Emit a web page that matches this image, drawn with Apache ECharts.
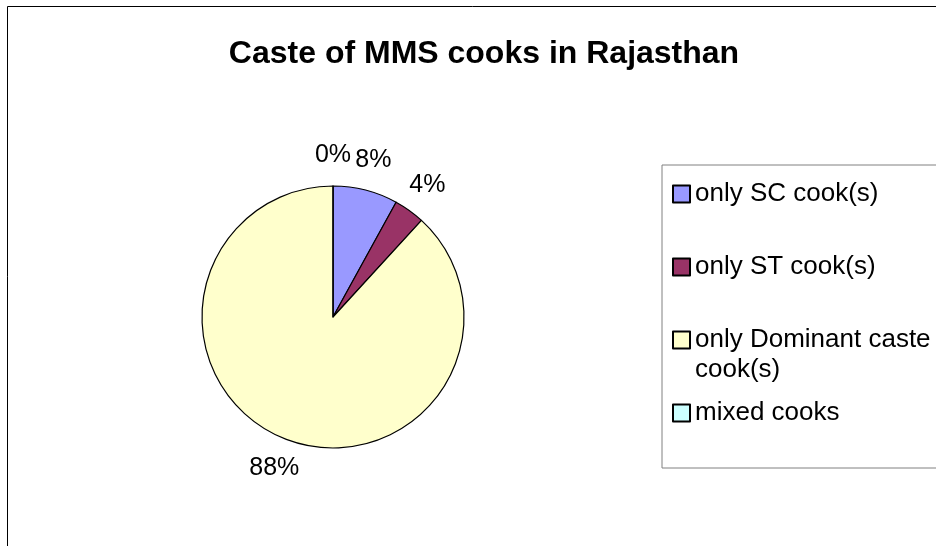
<!DOCTYPE html>
<html>
<head>
<meta charset="utf-8">
<script src="https://cdn.jsdelivr.net/npm/echarts@6/dist/echarts.min.js"></script>
<style>
  html, body { margin: 0; padding: 0; background: #fff; }
  #chart { width: 936px; height: 546px; }
</style>
</head>
<body>
<div id="chart"></div>
<script>
// categories and shares (percent of schools)
var categories = ["only SC cook(s)", "only ST cook(s)", "only Dominant caste cook(s)", "mixed cooks"];
var shares = [8.0, 3.8, 88.2, 0];
var colors = ["#9999FF", "#993366", "#FFFFCC", "#CCFFFF"];

var myChart = echarts.init(document.getElementById("chart"));

var pieData = categories.map(function (name, i) {
  return { name: name, value: shares[i], itemStyle: { color: colors[i] } };
});

// legend key: a 17px square in the middle of a tall 17x90 box, so that a
// wrapped legend entry keeps its key next to the first line like Excel does
var keyIcon = "path://M0,0L0,0M0,36.5L17,36.5L17,53.5L0,53.5ZM17,90L17,90";

myChart.setOption({
  animation: false,
  title: {
    text: "Caste of MMS cooks in Rajasthan",
    left: 479,
    top: 33,
    textAlign: "center",
    textStyle: {
      fontFamily: "Liberation Sans, Arial",
      fontSize: 32,
      fontWeight: "bold",
      color: "#000",
    },
  },
  // outer chart frame (only left and top edges fall inside the picture)
  graphic: [
    {
      type: "rect",
      shape: { x: 7.5, y: 6.5, width: 1200, height: 1200 },
      style: { fill: "none", stroke: "#000", lineWidth: 1 },
      silent: true,
    },
  ],
  legend: {
    orient: "vertical",
    left: 662,
    top: 165,
    padding: [-17, 20, 9, 10],
    itemWidth: 17,
    itemHeight: 90,
    itemGap: -19,
    borderColor: "#808080",
    borderWidth: 1,
    icon: keyIcon,
    textStyle: {
      fontFamily: "Liberation Sans, Arial",
      fontSize: 26,
      lineHeight: 30,
      color: "#000",
    },
    data: categories,
    formatter: function (name) {
      // leading blank line keeps the first line level with the key
      return name === categories[2] ? "\nonly Dominant caste\ncook(s)" : name;
    },
  },
  series: [
    {
      type: "pie",
      center: [333, 317],
      radius: 131,
      startAngle: 90,
      clockwise: true,
      label: { show: false },
      labelLine: { show: false },
      itemStyle: { borderColor: "#000", borderWidth: 1.2 },
      emphasis: { disabled: true },
      data: pieData,
    },
    {
      // invisible ring, only used to place the percentage labels outside the pie
      type: "pie",
      center: [333, 317],
      radius: [139, 179],
      startAngle: 90,
      clockwise: true,
      silent: true,
      itemStyle: { color: "rgba(0,0,0,0)", borderWidth: 0 },
      emphasis: { disabled: true },
      label: {
        show: true,
        position: "inside",
        fontFamily: "Liberation Sans, Arial",
        fontSize: 25,
        color: "#000",
        formatter: function (p) {
          return Math.round(p.value) + "%";
        },
      },
      labelLine: { show: false },
      data: categories.map(function (name, i) {
        return { name: name, value: shares[i] };
      }),
    },
  ],
});
</script>
</body>
</html>
